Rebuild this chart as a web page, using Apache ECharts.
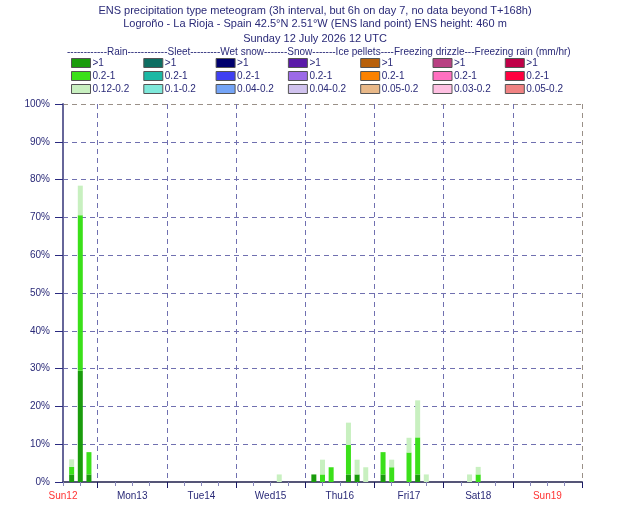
<!DOCTYPE html>
<html>
<head>
<meta charset="utf-8">
<script src="https://cdn.jsdelivr.net/npm/echarts@6/dist/echarts.min.js"></script>
<style>html,body{margin:0;background:#fff}#chart{width:630px;height:525px}</style>
</head>
<body>
<div id="chart"></div>
<script>
// hours after Sun 12 July 12 UTC (end of each 3h interval)
var hours = [3, 6, 9, 75, 87, 90, 93, 99, 102, 105, 111, 114, 120, 123, 126, 141, 144];
// probability (%) per rain intensity class
var rainHeavy    = [2, 29.4, 2,   0, 2, 0,   0,   2,   2,   0,   2,   0,   0,   2,   0, 0, 0];
var rainModerate = [2, 41.2, 5.9, 0, 0, 2,   3.9, 7.8, 0,   0,   5.9, 3.9, 7.8, 9.8, 0, 0, 2];
var rainLight    = [2, 7.8,  0,   2, 0, 3.9, 0,   5.9, 3.9, 3.9, 0,   2,   3.9, 9.8, 2, 2, 2];
// every other precipitation type stays at 0 % over the whole run
var noPrecip     = [0, 0,    0,   0, 0, 0,   0,   0,   0,   0,   0,   0,   0,   0,   0, 0, 0];

var dayLabels = ['Sun12', 'Mon13', 'Tue14', 'Wed15', 'Thu16', 'Fri17', 'Sat18', 'Sun19'];
var types = ['Rain', 'Sleet', 'Wet snow', 'Snow', 'Ice pellets', 'Freezing drizzle', 'Freezing rain'];
var classes = [
    ['>1', '0.2-1', '0.12-0.2'],
    ['>1', '0.2-1', '0.1-0.2'],
    ['>1', '0.2-1', '0.04-0.2'],
    ['>1', '0.2-1', '0.04-0.2'],
    ['>1', '0.2-1', '0.05-0.2'],
    ['>1', '0.2-1', '0.03-0.2'],
    ['>1', '0.2-1', '0.05-0.2']
];
var colors = [
    ['#1a9c0c', '#3be01a', '#c8f0c0'],
    ['#0e6e62', '#1bb8a4', '#7ee8da'],
    ['#00006e', '#4040f2', '#74a4f6'],
    ['#5a1aa8', '#9c6ae8', '#d0c2ee'],
    ['#b8600a', '#fc8200', '#e8b888'],
    ['#b84082', '#ff70c0', '#ffc0e2'],
    ['#c00048', '#ff0040', '#f08282']
];

var navy = '#2a2a78';
var grid = '#7070b0';
var edge = '#9a9088';
var font = 'Liberation Sans';

// 3-hourly slots from T+0 to T+180
var slots = [];
for (var h = 0; h <= 180; h += 3) slots.push(String(h));

function pairs(vals) {
    return hours.map(function (h, i) { return [String(h), vals[i]]; });
}
var rainData = [pairs(rainHeavy), pairs(rainModerate), pairs(rainLight)];

var series = [];
var legends = [];
types.forEach(function (t, i) {
    var names = [];
    classes[i].forEach(function (c, j) {
        var name = t + '|' + c;
        names.push(name);
        series.push({
            name: name,
            type: 'bar',
            stack: 'p',
            barWidth: 5,
            itemStyle: { color: colors[i][j] },
            emphasis: { disabled: true },
            data: i === 0 ? rainData[j] : pairs(noPrecip)
        });
    });
    legends.push({
        orient: 'vertical',
        left: 71 + 72.3 * i,
        top: 58,
        padding: 0,
        itemWidth: 19,
        itemHeight: 9,
        itemGap: 3,
        icon: 'rect',
        selectedMode: false,
        itemStyle: { borderColor: '#555', borderWidth: 1 },
        textStyle: { fontSize: 10, color: navy, fontFamily: font, padding: [0, 0, 0, -3] },
        formatter: function (n) { return n.split('|')[1]; },
        data: names
    });
});

var titleStyle = { fontSize: 11, fontWeight: 'normal', color: navy, fontFamily: font };
var headStyle = { fontSize: 10, fontWeight: 'normal', color: navy, fontFamily: font };

var option = {
    animation: false,
    title: [
        { text: 'ENS precipitation type meteogram (3h interval, but 6h on day 7, no data beyond T+168h)', left: 'center', top: 5, padding: 0, textStyle: titleStyle },
        { text: 'Logroño - La Rioja - Spain 42.5°N 2.51°W (ENS land point) ENS height: 460 m', left: 'center', top: 18, padding: 0, textStyle: titleStyle },
        { text: 'Sunday 12 July 2026 12 UTC', left: 'center', top: 33, padding: 0, textStyle: titleStyle },
        { text: '------------Rain------------Sleet---------Wet snow-------Snow-------Ice pellets----Freezing drizzle---Freezing rain (mm/hr)', left: 67, top: 47, padding: 0, textStyle: headStyle }
    ],
    legend: legends,
    grid: { left: 63, right: 48, top: 104, bottom: 43 },
    xAxis: [
        {
            type: 'category', data: slots, boundaryGap: false,
            axisLine: { lineStyle: { color: '#555577', width: 2 } },
            axisTick: { length: 4, interval: function (i) { return i % 2 === 0; }, lineStyle: { color: '#8888bb' } },
            splitLine: { show: false },
            axisLabel: {
                margin: 9,
                fontSize: 10,
                fontFamily: font,
                interval: function (i) { return i % 8 === 0; },
                formatter: function (v, i) {
                    var s = dayLabels[i / 8];
                    return s.indexOf('Sun') === 0 ? '{r|' + s + '}' : '{n|' + s + '}';
                },
                rich: { r: { color: '#ff3333', fontSize: 10 }, n: { color: navy, fontSize: 10 } }
            }
        },
        {
            // midnight boundaries: longer ticks and dashed grid lines
            type: 'category', data: slots, boundaryGap: false, position: 'bottom',
            axisLine: { show: false },
            axisTick: { length: 6, interval: function (i) { return i % 8 === 4; }, lineStyle: { color: '#1a1a66' } },
            axisLabel: { show: false },
            splitLine: {
                show: true,
                interval: function (i) { return i % 8 === 4; },
                lineStyle: { type: [5, 4], color: [grid, grid, grid, grid, grid, grid, grid, edge] }
            }
        }
    ],
    yAxis: {
        type: 'value', min: 0, max: 100, interval: 10,
        axisLine: { show: true, lineStyle: { color: '#666699', width: 2 } },
        axisTick: { show: true, length: 8, lineStyle: { color: '#2a2a80' } },
        axisLabel: { formatter: '{value}%', color: navy, fontSize: 10, margin: 13, fontFamily: font },
        splitLine: {
            show: true,
            lineStyle: { type: [5, 4], color: [grid, grid, grid, grid, grid, grid, grid, grid, grid, grid, edge] }
        }
    },
    series: series
};

var chart = echarts.init(document.getElementById('chart'));
chart.setOption(option);
</script>
</body>
</html>
